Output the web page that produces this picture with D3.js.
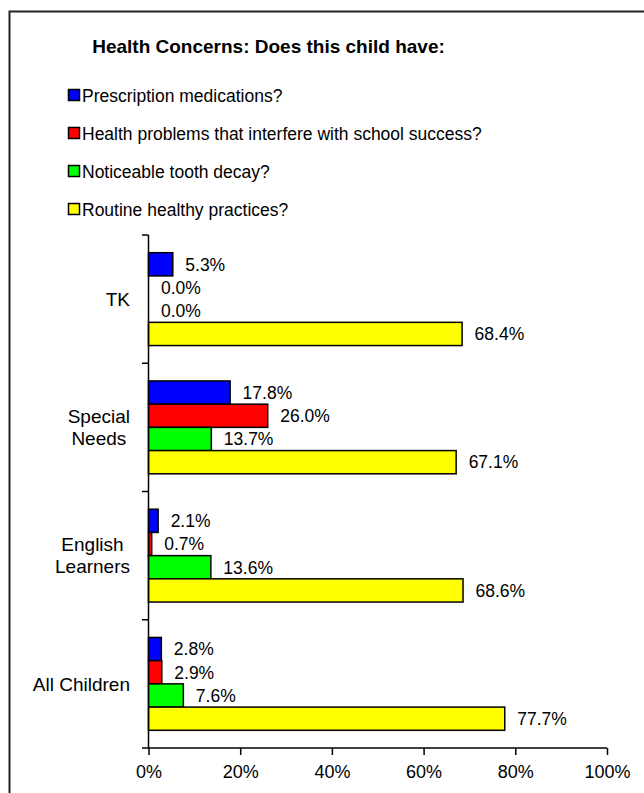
<!DOCTYPE html>
<html><head><meta charset="utf-8">
<script src="https://cdn.jsdelivr.net/npm/d3@7"></script>
<style>
body{margin:0;background:#fff;}
svg{display:block;font-family:"Liberation Sans",Arial,sans-serif;}
</style></head>
<body>
<svg id="c" width="644" height="793"></svg>
<script>
const title = "Health Concerns:  Does this child have:";
const categories = ["TK", "Special Needs", "English Learners", "All Children"];
const seriesNames = ["Prescription medications?", "Health problems that interfere with school success?", "Noticeable tooth decay?", "Routine healthy practices?"];
const seriesColors = ["#0000FF", "#FF0000", "#00FF00", "#FFFF00"];
const prescription = [5.3, 17.8, 2.1, 2.8];
const healthProblems = [0.0, 26.0, 0.7, 2.9];
const toothDecay = [0.0, 13.7, 13.6, 7.6];
const routine = [68.4, 67.1, 68.6, 77.7];
const xTicks = [0, 20, 40, 60, 80, 100];
const series = [prescription, healthProblems, toothDecay, routine];
const catLines = {"TK":["TK"], "Special Needs":["Special","Needs"], "English Learners":["English","Learners"], "All Children":["All Children"]};

const svg = d3.select("#c");
svg.append("rect").attr("x",9.5).attr("y",11.5).attr("width",660).attr("height",800)
  .attr("fill","none").attr("stroke","#222").attr("stroke-width",2);

svg.append("text").attr("x",268.5).attr("y",52.5).attr("text-anchor","middle")
  .attr("font-size",19).attr("font-weight","bold").text(title);

const leg = svg.append("g");
seriesNames.forEach((n,i)=>{
  const cy = 96 + i*38;
  leg.append("rect").attr("x",68.5).attr("y",cy-6.5).attr("width",11).attr("height",11)
    .attr("fill",seriesColors[i]).attr("stroke","#000").attr("stroke-width",1.5);
  leg.append("text").attr("x",82).attr("y",cy).attr("dy","0.36em").attr("font-size",17.5).text(n);
});

const x = d3.scaleLinear().domain([0,100]).range([148.5,607]);
const y = d3.scaleBand().domain(categories).range([235,748]).paddingInner(0.276).paddingOuter(0.138);
const ys = d3.scaleBand().domain(d3.range(series.length)).range([0,y.bandwidth()]);

const g = svg.append("g");
categories.forEach((c,ci)=>{
  series.forEach((s,si)=>{
    const v = s[ci];
    const by = y(c)+ys(si);
    if (v>0) g.append("rect").attr("x",x(0)).attr("y",by).attr("width",x(v)-x(0)).attr("height",ys.bandwidth())
      .attr("fill",seriesColors[si]).attr("stroke","#000").attr("stroke-width",1.5);
    g.append("text").attr("x",x(v)+12.5).attr("y",by+ys.bandwidth()/2).attr("dy","0.36em")
      .attr("font-size",17.5).text(v.toFixed(1)+"%");
  });
});

const xa = svg.append("g").attr("transform","translate(0,748)")
  .call(d3.axisBottom(x).tickValues(xTicks).tickSize(7).tickPadding(10).tickFormat(d=>d+"%"));
xa.select(".domain").attr("stroke","#000").attr("stroke-width",1.5).attr("d","M148.5,0H607");
xa.selectAll(".tick line").attr("stroke","#000").attr("stroke-width",1.5);
xa.selectAll(".tick text").attr("font-size",18).attr("font-family","Liberation Sans, Arial, sans-serif").attr("fill","#000");

const step = y.step();
const bounds = d3.range(categories.length+1).map(i=>235+i*step);
const ya = svg.append("g");
ya.append("line").attr("x1",148.5).attr("x2",148.5).attr("y1",235).attr("y2",748).attr("stroke","#000").attr("stroke-width",1.5);
ya.selectAll("line.t").data(bounds).join("line").attr("class","t")
  .attr("x1",142).attr("x2",148.5).attr("y1",d=>d).attr("y2",d=>d).attr("stroke","#000").attr("stroke-width",1.5);

categories.forEach(c=>{
  const lines = catLines[c];
  const cy = y(c)+y.bandwidth()/2;
  const tg = svg.append("g");
  const texts = lines.map((l,i)=>tg.append("text").attr("font-size",19).attr("text-anchor","middle")
    .attr("y",cy+(i-(lines.length-1)/2)*22).attr("dy","0.36em").text(l));
  const maxW = d3.max(texts, t=>t.node().getComputedTextLength());
  texts.forEach(t=>t.attr("x",130-maxW/2));
});
</script>
</body></html>
